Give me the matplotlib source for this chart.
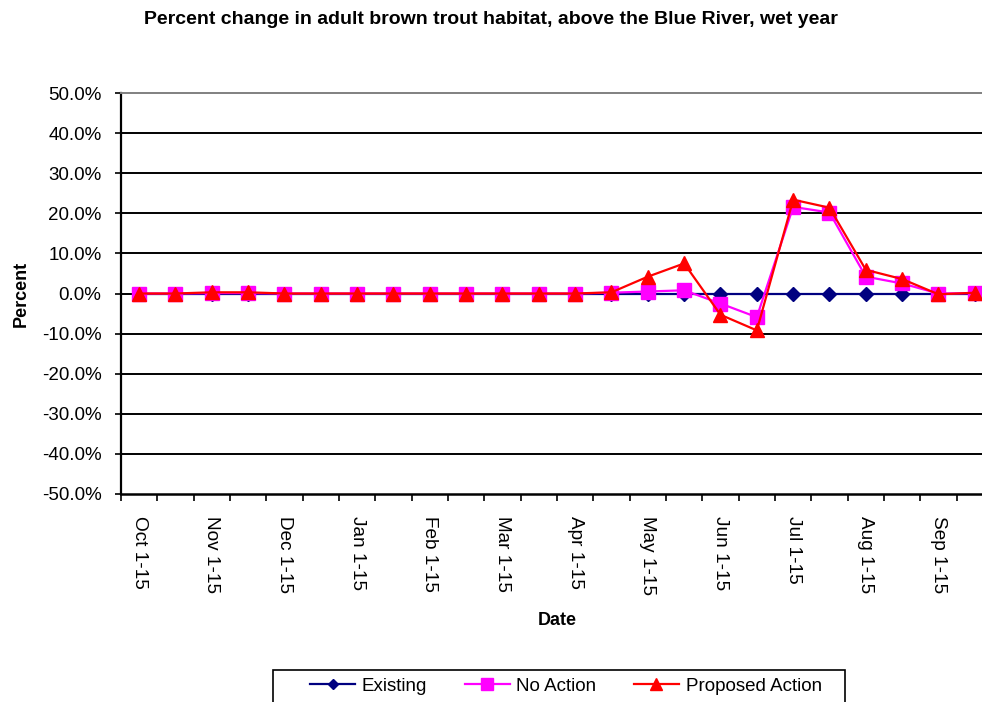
import numpy as np
import matplotlib
matplotlib.use("Agg")
import matplotlib.pyplot as plt
from matplotlib.patches import Rectangle
from matplotlib.ticker import FixedLocator, FuncFormatter

plt.rcParams['font.family'] = ['Liberation Sans', 'DejaVu Sans']

# half-month periods, Oct through Sep
months = ["Oct", "Nov", "Dec", "Jan", "Feb", "Mar",
          "Apr", "May", "Jun", "Jul", "Aug", "Sep"]
tick_labels = [m + " 1-15" for m in months]

# percent change per period
existing = [0.0] * 24
no_action = [0.0, 0.0, 0.1, 0.1, 0.0, 0.0, 0.0, 0.0, 0.0, 0.0, 0.0, 0.0,
             0.0, 0.2, 0.5, 0.8, -2.5, -5.9, 21.6, 20.2, 4.2, 2.5, 0.0, 0.1]
proposed = [0.0, 0.0, 0.3, 0.3, 0.0, 0.0, 0.0, 0.0, 0.0, 0.0, 0.0, 0.0,
            0.0, 0.3, 4.2, 7.5, -5.3, -9.2, 23.4, 21.4, 5.9, 3.6, -0.2, 0.2]

x = np.arange(len(existing))

fig = plt.figure(figsize=(9.82, 7.02), dpi=100)
ax = fig.add_axes([0.1232, 0.2963, 0.888, 0.5712])

ax.plot(x, existing, color="#000080", lw=1.6, marker="D", ms=7,
        label="Existing", zorder=3)
ax.plot(x, no_action, color="#FF00FF", lw=1.6, marker="s", ms=10,
        label="No Action", zorder=4)
ax.plot(x, proposed, color="#FF0000", lw=1.6, marker="^", ms=10,
        label="Proposed Action", zorder=5)

ax.set_xlim(-0.5, 23.5)
ax.set_ylim(-50, 50)
ax.set_yticks(np.arange(-50, 51, 10))
ax.yaxis.set_major_formatter(FuncFormatter(lambda v, p: "%.1f%%" % v))
for yv in np.arange(-40, 41, 10):
    ax.axhline(yv, color="black", lw=1.4, zorder=1)

ax.xaxis.set_major_locator(FixedLocator(np.arange(0, 24, 2)))
ax.set_xticklabels(tick_labels, rotation=270, fontsize=13.7)
ax.tick_params(axis="x", which="major", length=0, pad=16)
ax.xaxis.set_minor_locator(FixedLocator(np.arange(-0.5, 24, 1)))
ax.tick_params(axis="x", which="minor", length=5, width=1.2, direction="out")
ax.tick_params(axis="y", labelsize=13.5, length=4, width=1.2, direction="out", pad=10)

ax.spines["right"].set_visible(False)
ax.spines["top"].set_color("#808080")
ax.spines["top"].set_linewidth(1.4)
ax.spines["left"].set_linewidth(1.6)
ax.spines["bottom"].set_linewidth(1.8)

ax.set_ylabel("Percent", fontsize=13, fontweight="bold", labelpad=9)
ax.set_xlabel("Date", fontsize=13, fontweight="bold", labelpad=12)

fig.text(0.5, 1 - 19 / 702, "Percent change in adult brown trout habitat, above the Blue River, wet year",
         ha="center", va="center", fontsize=14, fontweight="bold")

# legend box runs off the bottom edge, as in the original
box = Rectangle((273 / 982, -0.05), 572 / 982, 0.05 + 32 / 702,
                transform=fig.transFigure, facecolor="white",
                edgecolor="black", lw=1.2)
fig.patches.append(box)
leg = fig.legend(loc="center", bbox_to_anchor=(566 / 982, 1 - 686 / 702), ncol=3,
                 fontsize=13.5, frameon=False,
                 handlelength=2.4, handletextpad=0.35, columnspacing=2.0,
                 borderpad=0.0, markerscale=0.8)

fig.savefig("out.png", dpi=100)
